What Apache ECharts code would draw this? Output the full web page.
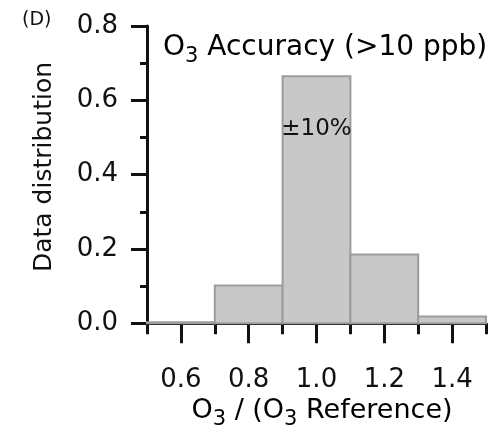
<!DOCTYPE html>
<html>
<head>
<meta charset="utf-8">
<script src="https://cdn.jsdelivr.net/npm/echarts@6/dist/echarts.min.js"></script>
<style>
  html, body { margin: 0; padding: 0; background: #fff; }
  #chart { width: 498px; height: 429px; }
</style>
</head>
<body>
<div id="chart"></div>
<script>
// histogram bins (ratio O3 / O3 reference)
const binStart = [0.5, 0.7, 0.9, 1.1, 1.3];
const binEnd = [0.7, 0.9, 1.1, 1.3, 1.5];
const binValue = [0.003, 0.102, 0.665, 0.185, 0.018];
const binLabel = ["", "", "±10%", "", ""];
// tick positions
const xMajorTicks = [0.6, 0.8, 1.0, 1.2, 1.4];
const xMinorTicks = [0.5, 0.7, 0.9, 1.1, 1.3, 1.5];
const yMajorTicks = [0.0, 0.2, 0.4, 0.6, 0.8];
const yMinorTicks = [0.1, 0.3, 0.5, 0.7];

const FONT = "DejaVu Sans";
const INK = "#111";

(function () {
  const myChart = echarts.init(document.getElementById("chart"), null, { renderer: "canvas" });

  const data = binStart.map((s, i) => [s, binEnd[i], binValue[i]]);

  // rich text styles: normal text + subscript
  function richStyle(size, subSize, drop) {
    return {
      n: { fontSize: size, fontFamily: FONT, color: INK, lineHeight: size + 3, verticalAlign: "top" },
      s: { fontSize: subSize, fontFamily: FONT, color: INK, lineHeight: subSize, verticalAlign: "top", padding: [drop, 0, 0, 0] },
    };
  }

  const option = {
    animation: false,
    textStyle: { fontFamily: FONT, color: INK },
    grid: { left: 147, right: 12, top: 26, bottom: 102 },
    xAxis: [
      {
        // minor ticks + axis line
        type: "value",
        min: 0.5,
        max: 1.5,
        axisLine: { show: true, lineStyle: { color: INK, width: 3 } },
        axisTick: { show: true, customValues: xMinorTicks, length: 11, lineStyle: { color: INK, width: 3 } },
        axisLabel: { show: false },
        splitLine: { show: false },
      },
      {
        // major ticks + labels
        type: "value",
        min: 0.5,
        max: 1.5,
        position: "bottom",
        axisLine: { show: false },
        axisTick: { show: true, customValues: xMajorTicks, length: 20, lineStyle: { color: INK, width: 3 } },
        axisLabel: {
          show: true,
          customValues: xMajorTicks,
          formatter: (v) => v.toFixed(1),
          fontSize: 26,
          fontFamily: FONT,
          color: INK,
          margin: 40,
        },
        splitLine: { show: false },
      },
    ],
    yAxis: [
      {
        type: "value",
        min: -0.01,
        max: 0.8,
        axisLine: { show: true, lineStyle: { color: INK, width: 3 } },
        axisTick: { show: true, customValues: yMajorTicks, length: 16, lineStyle: { color: INK, width: 3 } },
        axisLabel: {
          show: true,
          customValues: yMajorTicks,
          formatter: (v) => v.toFixed(1),
          fontSize: 26,
          fontFamily: FONT,
          color: INK,
          margin: 29,
        },
        splitLine: { show: false },
      },
      {
        type: "value",
        min: -0.01,
        max: 0.8,
        position: "left",
        axisLine: { show: false },
        axisTick: { show: true, customValues: yMinorTicks, length: 7, lineStyle: { color: INK, width: 3 } },
        axisLabel: { show: false },
        splitLine: { show: false },
      },
    ],
    series: [
      {
        type: "custom",
        xAxisIndex: 0,
        yAxisIndex: 0,
        encode: { x: [0, 1], y: 2 },
        data: data,
        renderItem: function (params, api) {
          const p0 = api.coord([api.value(0), 0]);
          const p1 = api.coord([api.value(1), api.value(2)]);
          const label = binLabel[params.dataIndex];
          return {
            type: "rect",
            shape: { x: p0[0], y: p1[1], width: p1[0] - p0[0], height: p0[1] - p1[1] },
            style: { fill: "#c8c8c8", stroke: "#9c9c9c", lineWidth: 2 },
            textContent: label
              ? { style: { text: label, fontSize: 23, fontFamily: FONT, fill: INK } }
              : undefined,
            textConfig: label ? { position: "insideTop", distance: 42 } : undefined,
          };
        },
      },
    ],
    graphic: [
      {
        type: "text",
        left: 22,
        top: 11,
        style: { text: "(D)", fontSize: 19, fontFamily: FONT, fill: INK },
      },
      {
        type: "text",
        x: 163,
        y: 34,
        style: {
          text: "{n|O}{s|3}{n| Accuracy (>10 ppb)}",
          rich: richStyle(28, 21, 12),
          align: "left",
          verticalAlign: "top",
        },
      },
      {
        type: "text",
        x: 322,
        y: 397,
        style: {
          text: "{n|O}{s|3}{n| / (O}{s|3}{n| Reference)}",
          rich: richStyle(27, 21, 12),
          align: "center",
          verticalAlign: "top",
        },
      },
      {
        type: "text",
        x: 44,
        y: 167,
        rotation: Math.PI / 2,
        style: {
          text: "Data distribution",
          fontSize: 25,
          fontFamily: FONT,
          fill: INK,
          align: "center",
          verticalAlign: "middle",
        },
      },
    ],
  };

  myChart.setOption(option);
  window.addEventListener("resize", function () {
    myChart.resize();
  });
})();
</script>
</body>
</html>
